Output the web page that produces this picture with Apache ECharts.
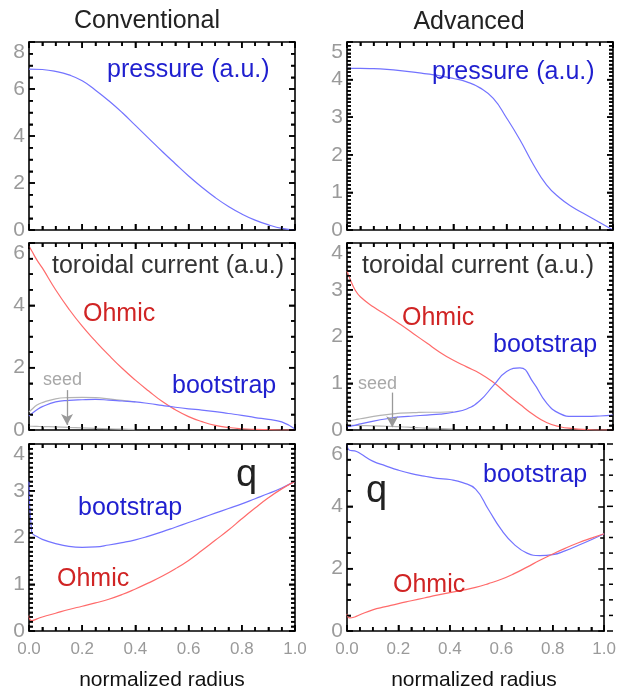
<!DOCTYPE html>
<html>
<head>
<meta charset="utf-8">
<script src="https://cdn.jsdelivr.net/npm/echarts@6/dist/echarts.min.js"></script>
<style>
  html, body { margin: 0; padding: 0; background: #fff; }
  #chart { width: 619px; height: 691px; }
</style>
</head>
<body>
<div id="chart"></div>
<script>
// radius grids
const radiusP = [0, 0.05, 0.1, 0.15, 0.2, 0.25, 0.3, 0.35, 0.4, 0.45, 0.5, 0.55, 0.6, 0.65, 0.7, 0.75, 0.8, 0.85, 0.9, 0.95, 1.0]
const radius = [0, 0.01, 0.03, 0.05, 0.1, 0.15, 0.2, 0.25, 0.3, 0.35, 0.4, 0.45, 0.5, 0.55, 0.6, 0.65, 0.7, 0.75, 0.8, 0.85, 0.9, 0.95, 1.0]
const radiusSeed = [0, 0.01, 0.03, 0.05, 0.1, 0.15, 0.2, 0.25, 0.3, 0.35, 0.4]

// pressure (a.u.)
const convPressure = [6.85, 6.83, 6.75, 6.6, 6.35, 5.95, 5.5, 5.0, 4.45, 3.9, 3.35, 2.82, 2.3, 1.82, 1.38, 1.0, 0.68, 0.42, 0.22, 0.07, 0.0]
const advPressure = [4.3, 4.3, 4.29, 4.27, 4.24, 4.2, 4.15, 4.1, 4.03, 3.94, 3.78, 3.5, 2.98, 2.4, 1.75, 1.2, 0.85, 0.6, 0.4, 0.2, 0.0]

// toroidal current (a.u.)
const convOhmicJ = [5.9, 5.75, 5.45, 5.2, 4.5, 3.88, 3.33, 2.85, 2.4, 1.98, 1.6, 1.25, 0.92, 0.65, 0.43, 0.27, 0.15, 0.08, 0.04, 0.02, 0.01, 0, 0]
const convBootJ = [0.45, 0.52, 0.65, 0.75, 0.9, 0.95, 0.97, 0.98, 0.96, 0.93, 0.9, 0.85, 0.79, 0.73, 0.68, 0.64, 0.59, 0.53, 0.47, 0.4, 0.34, 0.26, 0.03]
const convTotalJ = [0.58, 0.66, 0.8, 0.88, 1.0, 1.04, 1.05, 1.04, 1.0, 0.95, 0.9]
const convSeedJ = [0.12, 0.12, 0.115, 0.11, 0.1, 0.085, 0.07, 0.055, 0.04, 0.025, 0.01]
const advOhmicJ = [3.4, 3.25, 3.0, 2.85, 2.63, 2.45, 2.26, 2.06, 1.86, 1.66, 1.49, 1.35, 1.21, 1.02, 0.78, 0.55, 0.33, 0.16, 0.07, 0.03, 0.01, 0, 0]
const advBootJ = [0.07, 0.08, 0.1, 0.13, 0.19, 0.24, 0.28, 0.3, 0.32, 0.34, 0.38, 0.45, 0.63, 0.95, 1.25, 1.33, 1.02, 0.58, 0.35, 0.29, 0.29, 0.3, 0.32]
const advTotalJ = [0.18, 0.19, 0.22, 0.24, 0.29, 0.33, 0.36, 0.37, 0.38, 0.38, 0.39]
const advSeedJ = [0.1, 0.1, 0.098, 0.095, 0.09, 0.08, 0.07, 0.055, 0.04, 0.03, 0.02]

// q
const convBootQ = [3.2, 2.12, 2.02, 1.96, 1.87, 1.81, 1.79, 1.8, 1.84, 1.89, 1.95, 2.03, 2.12, 2.22, 2.32, 2.42, 2.52, 2.62, 2.72, 2.83, 2.94, 3.06, 3.2]
const convOhmicQ = [0.33, 0.22, 0.26, 0.3, 0.38, 0.46, 0.53, 0.6, 0.68, 0.78, 0.9, 1.03, 1.17, 1.33, 1.51, 1.72, 1.94, 2.16, 2.4, 2.63, 2.85, 3.04, 3.2]
const advBootQ = [6.0, 5.8, 5.78, 5.7, 5.45, 5.3, 5.16, 5.05, 4.97, 4.9, 4.86, 4.76, 4.55, 3.9, 3.25, 2.78, 2.5, 2.42, 2.45, 2.58, 2.75, 2.93, 3.12]
const advOhmicQ = [0.55, 0.42, 0.45, 0.52, 0.68, 0.78, 0.88, 0.97, 1.06, 1.15, 1.23, 1.31, 1.4, 1.52, 1.66, 1.84, 2.05, 2.27, 2.47, 2.66, 2.83, 2.98, 3.12]

// y axis ranges per panel: [max, interval, minor splits]
const yRanges = [[8, 2, 4], [5, 1, 10], [6, 2, 4], [4, 1, 10], [4, 1, 10], [6, 2, 4]]
const xRange = [1, 0.2, 4]

const FONT = '"Liberation Sans", Arial, sans-serif'
const BLUE_LINE = '#7373ff'
const RED_LINE = '#ff6b6b'
const GREY_LINE = '#b4b4b4'
const BLUE_TEXT = '#1f1fcf'
const RED_TEXT = '#d02424'

const grids = []
const lefts = [29, 347]
const tops = [42, 243, 444]
const heights = [188, 187, 187]
for (let r = 0; r < 3; r++) {
  for (let c = 0; c < 2; c++) {
    grids.push({ left: lefts[c], top: tops[r], width: 266, height: heights[r] })
  }
}

const frame = { show: true, onZero: false, lineStyle: { color: '#000', width: 1.6 } }

const xAxes = []
const yAxes = []
grids.forEach((g, i) => {
  ;['bottom', 'top'].forEach((pos) => {
    xAxes.push({
      type: 'value', gridIndex: i, position: pos, min: 0, max: xRange[0], interval: xRange[1],
      axisLine: frame, splitLine: { show: false },
      axisTick: { show: true, inside: true, length: 6, lineStyle: { color: '#000', width: 1.5 } },
      minorTick: { show: true, splitNumber: xRange[2], length: 4, lineStyle: { color: '#000', width: 1.5 } },
      axisLabel: {
        show: i >= 4 && pos === 'bottom', color: '#9a9a9a', fontSize: 17, fontFamily: FONT, margin: 10,
        formatter: (v) => v.toFixed(1),
      },
    })
  })
  const [max, interval, minor] = yRanges[i]
  ;['left', 'right'].forEach((pos) => {
    yAxes.push({
      type: 'value', gridIndex: i, position: pos, min: 0, max: max, interval: interval,
      axisLine: frame, splitLine: { show: false },
      axisTick: { show: true, inside: true, length: 6, lineStyle: { color: '#000', width: 1.5 } },
      minorTick: { show: true, splitNumber: minor, length: 4, lineStyle: { color: '#000', width: 1.5 } },
      axisLabel: {
        show: pos === 'left', color: '#9a9a9a', fontSize: 21, fontFamily: FONT, margin: 4,
        verticalAlignMaxLabel: 'top',
      },
    })
  })
})

// inward frame ticks also drawn through each panel's axes with api.coord
function tickValues(max, step, splits) {
  const out = []
  const n = Math.round(max / step) * splits
  for (let k = 0; k <= n; k++) out.push([(k * step) / splits, k % splits === 0 ? 1 : 0])
  return out
}

function tickSeries(panel) {
  const [max, interval, minor] = yRanges[panel]
  const data = []
  tickValues(xRange[0], xRange[1], xRange[2]).forEach(([v, major]) => data.push([v, 0, major, 0]))
  tickValues(max, interval, minor).forEach(([v, major]) => data.push([0, v, major, 1]))
  return {
    type: 'custom', xAxisIndex: panel * 2, yAxisIndex: panel * 2,
    silent: true, z: 6, clip: false, data: data,
    encode: { x: 0, y: 1 },
    renderItem: (params, api) => {
      const isY = api.value(3) === 1
      const len = api.value(2) === 1 ? 6 : 4
      const g = grids[panel]
      const left = g.left
      const right = g.left + g.width
      const top = g.top
      const bottom = g.top + g.height
      const st = { stroke: '#000', lineWidth: 1.5 }
      const p = api.coord([api.value(0), api.value(1)])
      if (!isY) {
        const x = p[0]
        return {
          type: 'group', children: [
            { type: 'line', shape: { x1: x, y1: bottom, x2: x, y2: bottom - len }, style: st },
            { type: 'line', shape: { x1: x, y1: top, x2: x, y2: top + len }, style: st },
          ],
        }
      }
      const y = p[1]
      return {
        type: 'group', children: [
          { type: 'line', shape: { x1: left, y1: y, x2: left + len, y2: y }, style: st },
          { type: 'line', shape: { x1: right, y1: y, x2: right - len, y2: y }, style: st },
        ],
      }
    },
  }
}

function pairs(xs, ys) {
  return ys.map((y, k) => [xs[k], y])
}

function line(panel, xs, ys, color, extra) {
  return Object.assign({
    type: 'line', xAxisIndex: panel * 2, yAxisIndex: panel * 2,
    data: pairs(xs, ys), showSymbol: false, smooth: 0.5,
    lineStyle: { color: color, width: 1.2 }, itemStyle: { color: color },
    silent: true, z: 3,
  }, extra || {})
}

function arrow(x, y1, y2) {
  return {
    silent: true, symbol: ['none', 'arrow'], symbolSize: [9, 11],
    label: { show: false },
    lineStyle: { color: '#999', width: 1.3, type: 'solid' },
    data: [[{ coord: [x, y1] }, { coord: [x, y2] }]],
  }
}

const series = [
  line(0, radiusP, convPressure, BLUE_LINE),
  line(1, radiusP, advPressure, BLUE_LINE),
  line(2, radiusSeed, convTotalJ, GREY_LINE),
  line(2, radiusSeed, convSeedJ, GREY_LINE, { markLine: arrow(0.143, 1.28, 0.16) }),
  line(2, radius, convOhmicJ, RED_LINE),
  line(2, radius, convBootJ, BLUE_LINE),
  line(3, radiusSeed, advTotalJ, GREY_LINE),
  line(3, radiusSeed, advSeedJ, GREY_LINE, { markLine: arrow(0.17, 0.8, 0.06) }),
  line(3, radius, advOhmicJ, RED_LINE),
  line(3, radius, advBootJ, BLUE_LINE),
  line(4, radius, convBootQ, BLUE_LINE),
  line(4, radius, convOhmicQ, RED_LINE),
  line(5, radius, advBootQ, BLUE_LINE),
  line(5, radius, advOhmicQ, RED_LINE),
]
for (let p = 0; p < 6; p++) series.push(tickSeries(p))

function txt(x, y, s, size, color, align) {
  return {
    type: 'text', x: x, y: y, silent: true, z: 10,
    style: {
      text: s, fill: color, font: size + 'px ' + FONT,
      textAlign: align || 'left', textVerticalAlign: 'middle',
    },
  }
}

const graphic = [
  txt(147, 21, 'Conventional', 25, '#222', 'center'),
  txt(469, 22, 'Advanced', 25, '#222', 'center'),
  txt(107, 70, 'pressure (a.u.)', 25, BLUE_TEXT),
  txt(432, 72, 'pressure (a.u.)', 25, BLUE_TEXT),
  txt(52, 266, 'toroidal current (a.u.)', 25, '#333'),
  txt(362, 266, 'toroidal current (a.u.)', 25, '#333'),
  txt(83, 314, 'Ohmic', 25, RED_TEXT),
  txt(172, 386, 'bootstrap', 25, BLUE_TEXT),
  txt(43, 380, 'seed', 18, '#a8a8a8'),
  txt(402, 318, 'Ohmic', 25, RED_TEXT),
  txt(493, 345, 'bootstrap', 25, BLUE_TEXT),
  txt(358, 384, 'seed', 18, '#a8a8a8'),
  txt(236, 476, 'q', 38, '#222'),
  txt(78, 508, 'bootstrap', 25, BLUE_TEXT),
  txt(57, 579, 'Ohmic', 25, RED_TEXT),
  txt(366, 492, 'q', 38, '#222'),
  txt(483, 475, 'bootstrap', 25, BLUE_TEXT),
  txt(393, 585, 'Ohmic', 25, RED_TEXT),
  txt(162, 680, 'normalized radius', 21, '#111', 'center'),
  txt(474, 680, 'normalized radius', 21, '#111', 'center'),
]

const myChart = echarts.init(document.getElementById('chart'), null, { renderer: 'canvas' })
myChart.setOption({
  animation: false,
  backgroundColor: '#fff',
  grid: grids,
  xAxis: xAxes,
  yAxis: yAxes,
  series: series,
  graphic: graphic,
})
</script>
</body>
</html>
